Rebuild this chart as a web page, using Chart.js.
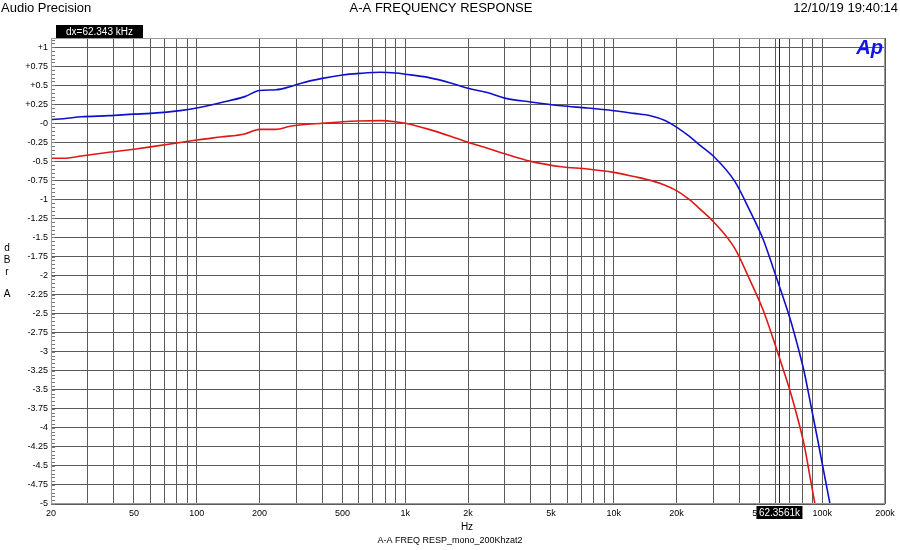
<!DOCTYPE html>
<html>
<head>
<meta charset="utf-8">
<script src="https://cdn.jsdelivr.net/npm/chart.js@4.4.1/dist/chart.umd.min.js"></script>
<style>
  html, body { margin: 0; padding: 0; background: #fff; }
  #wrap { width: 900px; height: 550px; }
</style>
</head>
<body>
<div id="wrap"><canvas id="chart" width="900" height="550"></canvas></div>
<script>
// measured frequencies (Hz)
const freqs = [20, 23, 28, 38, 50, 60, 85, 100, 130, 170, 200, 240, 280, 320, 400, 500, 600, 760, 900,
  1000, 1300, 1650, 2000, 2500, 3000, 4000, 5600, 7500, 10000, 12500, 15000, 17500, 20000, 23000, 26500, 30000,
  38000, 45000, 52000, 58000, 63000, 70000, 76000, 82000, 88000, 95000, 100000, 112000];

// blue trace (dBrA)
const blueVals = [0.05, 0.06, 0.085, 0.10, 0.12, 0.13, 0.17, 0.20, 0.27, 0.35, 0.43, 0.44, 0.48, 0.53, 0.59,
  0.635, 0.655, 0.67, 0.66, 0.645, 0.60, 0.53, 0.46, 0.40, 0.33, 0.28, 0.23, 0.20, 0.165, 0.13, 0.10,
  0.04, -0.05, -0.17, -0.31, -0.43, -0.76, -1.15, -1.52, -1.89, -2.18, -2.56, -2.91, -3.27, -3.69, -4.15, -4.47, -5.17];

// red trace (dBrA)
const redVals = [-0.46, -0.46, -0.43, -0.38, -0.34, -0.31, -0.25, -0.22, -0.18, -0.14, -0.08, -0.08, -0.04,
  -0.02, 0.0, 0.02, 0.03, 0.035, 0.02, 0.0, -0.08, -0.17, -0.25, -0.33, -0.40, -0.50, -0.57, -0.60,
  -0.645, -0.70, -0.75, -0.81, -0.885, -1.0, -1.15, -1.29, -1.64, -2.06, -2.45, -2.82, -3.12, -3.51, -3.86, -4.23,
  -4.69, -5.19, -5.52, -6.25];

const xGrid = [20, 30, 40, 50, 60, 70, 80, 90, 100, 200, 300, 400, 500, 600, 700, 800, 900,
  1000, 2000, 3000, 4000, 5000, 6000, 7000, 8000, 9000, 10000, 20000, 30000, 40000, 50000,
  60000, 70000, 80000, 90000, 100000, 200000];
const xLabelValues = [20, 50, 100, 200, 500, 1000, 2000, 5000, 10000, 20000, 50000, 100000, 200000];
const xLabelText = ['20', '50', '100', '200', '500', '1k', '2k', '5k', '10k', '20k', '50k', '100k', '200k'];

const yTickValues = [1, 0.75, 0.5, 0.25, 0, -0.25, -0.5, -0.75, -1, -1.25, -1.5, -1.75, -2, -2.25,
  -2.5, -2.75, -3, -3.25, -3.5, -3.75, -4, -4.25, -4.5, -4.75, -5];
const yTickText = ['+1', '+0.75', '+0.5', '+0.25', '-0', '-0.25', '-0.5', '-0.75', '-1', '-1.25',
  '-1.5', '-1.75', '-2', '-2.25', '-2.5', '-2.75', '-3', '-3.25', '-3.5', '-3.75', '-4', '-4.25',
  '-4.5', '-4.75', '-5'];

const cursorFreq = 62356.1;
const cursorLabel = '62.3561k';
const dxLabel = 'dx=62.343 kHz';

const FONT = '"Liberation Sans", Arial, sans-serif';

const decorations = {
  id: 'decorations',
  beforeDatasetsDraw(chart) {
    const { ctx, chartArea: a, scales } = chart;
    ctx.save();
    // minor ticks along the left edge
    ctx.strokeStyle = '#777';
    ctx.lineWidth = 1;
    for (let i = -100; i <= 22; i++) {
      const y = Math.round(scales.y.getPixelForValue(i * 0.05)) + 0.5;
      ctx.beginPath();
      ctx.moveTo(a.left, y);
      ctx.lineTo(a.left + 4, y);
      ctx.stroke();
    }
    // cursor line
    const cx = Math.round(scales.x.getPixelForValue(cursorFreq)) + 0.5;
    ctx.strokeStyle = '#222';
    ctx.beginPath();
    ctx.moveTo(cx, a.top);
    ctx.lineTo(cx, a.bottom);
    ctx.stroke();
    ctx.restore();
  },
  afterDraw(chart) {
    const { ctx, chartArea: a, scales } = chart;
    ctx.save();
    // plot frame
    ctx.strokeStyle = '#999';
    ctx.lineWidth = 1;
    ctx.strokeRect(a.left + 0.5, a.top + 0.5, a.right - a.left - 1, a.bottom - a.top - 1);

    // header
    ctx.fillStyle = '#000';
    ctx.textBaseline = 'middle';
    ctx.font = '13px ' + FONT;
    ctx.textAlign = 'left';
    ctx.fillText('Audio Precision', 1, 8);
    ctx.textAlign = 'center';
    ctx.fillText('A-A FREQUENCY RESPONSE', 441, 8);
    ctx.textAlign = 'right';
    ctx.fillText('12/10/19 19:40:14', 898, 8);

    // dx box
    ctx.fillStyle = '#000';
    ctx.fillRect(56, 25, 87, 13);
    ctx.fillStyle = '#fff';
    ctx.font = '10px ' + FONT;
    ctx.textAlign = 'center';
    ctx.fillText(dxLabel, 99.5, 32);

    // cursor readout box
    const cx = scales.x.getPixelForValue(cursorFreq);
    ctx.fillStyle = '#000';
    ctx.fillRect(cx - 23, 506, 46, 13);
    ctx.fillStyle = '#fff';
    ctx.fillText(cursorLabel, cx, 513);

    // Ap logo
    ctx.fillStyle = '#1414e6';
    ctx.font = 'bold italic 20px ' + FONT;
    ctx.textAlign = 'right';
    ctx.textBaseline = 'alphabetic';
    ctx.fillText('Ap', 883, 54);

    // axis titles
    ctx.fillStyle = '#000';
    ctx.textBaseline = 'middle';
    ctx.textAlign = 'center';
    ctx.font = '10px ' + FONT;
    ctx.fillText('d', 7, 248);
    ctx.fillText('B', 7, 260);
    ctx.fillText('r', 7, 272);
    ctx.fillText('A', 7, 294);
    ctx.fillText('Hz', 467, 527);
    ctx.font = '9px ' + FONT;
    ctx.fillText('A-A FREQ RESP_mono_200Khzat2', 450, 541);
    ctx.restore();
  }
};

new Chart(document.getElementById('chart'), {
  type: 'line',
  data: {
    labels: freqs,
    datasets: [
      {
        data: blueVals,
        borderColor: '#1010cc',
        borderWidth: 1.6,
        pointRadius: 0,
        cubicInterpolationMode: 'monotone',
      },
      {
        data: redVals,
        borderColor: '#e01818',
        borderWidth: 1.6,
        pointRadius: 0,
        cubicInterpolationMode: 'monotone',
      },
    ],
  },
  options: {
    responsive: false,
    animation: false,
    devicePixelRatio: 1,
    layout: { padding: { top: 38, right: 15, left: 0, bottom: 0 } },
    plugins: { legend: { display: false }, tooltip: { enabled: false } },
    scales: {
      x: {
        type: 'logarithmic',
        min: 20,
        max: 200000,
        afterBuildTicks: (scale) => { scale.ticks = xGrid.map((v) => ({ value: v })); },
        afterFit: (scale) => { scale.height = 46; },
        grid: { color: '#5a5a5a', lineWidth: 1, drawTicks: false },
        border: { display: false },
        ticks: {
          autoSkip: false,
          maxRotation: 0,
          padding: 4,
          color: '#000',
          font: { family: FONT, size: 9 },
          callback: (value) => {
            const i = xLabelValues.indexOf(value);
            return i >= 0 ? xLabelText[i] : '';
          },
        },
      },
      y: {
        min: -5,
        max: 1.12,
        afterBuildTicks: (scale) => { scale.ticks = yTickValues.map((v) => ({ value: v })); },
        afterFit: (scale) => { scale.width = 51; },
        grid: { color: '#5a5a5a', lineWidth: 1, drawTicks: false },
        border: { display: false },
        ticks: {
          autoSkip: false,
          padding: 3,
          color: '#000',
          font: { family: FONT, size: 9 },
          callback: (value) => {
            const i = yTickValues.indexOf(value);
            return i >= 0 ? yTickText[i] : '';
          },
        },
      },
    },
  },
  plugins: [decorations],
});
</script>
</body>
</html>
